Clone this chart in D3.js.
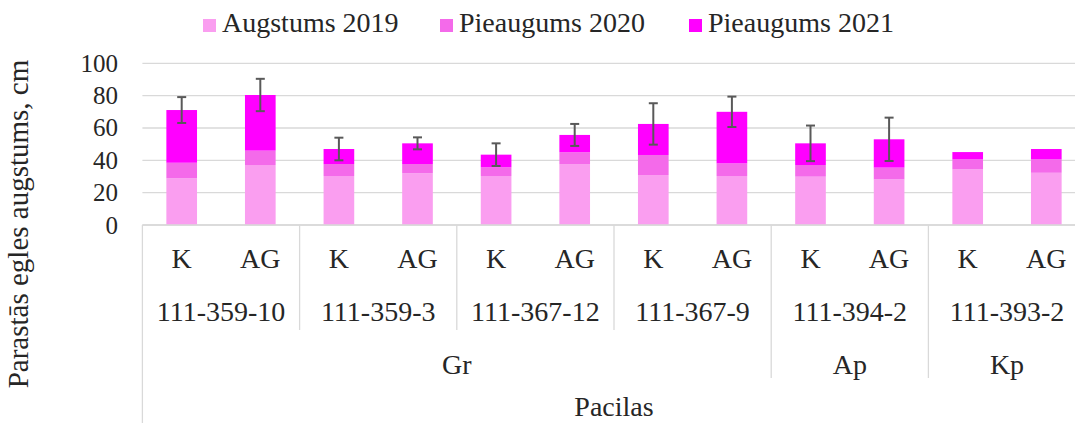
<!DOCTYPE html>
<html>
<head>
<meta charset="utf-8">
<script src="https://cdn.jsdelivr.net/npm/d3@7"></script>
<style>
  html, body { margin: 0; padding: 0; background: #fff; }
  svg { display: block; font-family: "Liberation Serif", "Times New Roman", serif; }
</style>
</head>
<body>
<svg id="chart" width="1075" height="423"></svg>
<script>
// ---- data ----
const treatments = ["K","AG","K","AG","K","AG","K","AG","K","AG","K","AG"];
const progenies = ["111-359-10","111-359-3","111-367-12","111-367-9","111-394-2","111-393-2"];
const regions = ["Gr","Ap","Kp"];
const regionSpan = [4, 1, 1]; // number of progenies in each region
const seriesNames = ["Augstums 2019","Pieaugums 2020","Pieaugums 2021"];
const growth2019 = [28.9, 37.1, 30.3, 32.0, 30.3, 37.5, 30.9, 30.3, 29.9, 28.2, 34.4, 32.3];
const incr2020   = [ 9.6,  8.9,  7.4,  5.7,  5.4,  7.5, 12.4,  7.8,  7.2,  7.3,  6.2,  8.3];
const incr2021   = [32.6, 34.4,  9.3, 12.8,  7.8, 10.7, 19.2, 31.9, 13.4, 17.5,  4.5,  6.4];
const errorSD    = [ 8.0, 10.0,  7.0,  3.7,  7.0,  6.8, 12.8,  9.4, 11.0, 13.4,  0,    0  ];
const yTicks = [0, 20, 40, 60, 80, 100];
const colors = ["#FA9EF0", "#F46AEA", "#FF00FF"];

// ---- layout ----
const svg = d3.select("#chart");
const x0 = 142.4, x1 = 1085.6, yBase = 225, yTop = 63.3;
const ids = treatments.map((t, i) => i);
const x = d3.scaleBand().domain(ids).range([x0, x1]).paddingInner(0.61).paddingOuter(0.305);
const y = d3.scaleLinear().domain([0, 100]).range([yBase, yTop]);
const step = x.step();
const textCol = "#262626";
const lineCol = "#d9d9d9";

// gridlines
svg.append("g").selectAll("line").data(yTicks).join("line")
  .attr("x1", x0).attr("x2", 1075)
  .attr("y1", d => y(d)).attr("y2", d => y(d))
  .attr("stroke", lineCol).attr("stroke-width", 1.3);

// y tick labels
svg.append("g").selectAll("text").data(yTicks).join("text")
  .attr("x", 118).attr("y", d => y(d))
  .attr("text-anchor", "end").attr("dominant-baseline", "central")
  .attr("font-size", 25).attr("fill", textCol)
  .text(d => d);

// y title
svg.append("text")
  .attr("transform", "translate(28,224) rotate(-90)")
  .attr("text-anchor", "middle")
  .attr("font-size", 29).attr("fill", textCol)
  .text("Parastās egles augstums, cm");

// stacked bars
const rows = ids.map(i => ({ i, v: [growth2019[i], incr2020[i], incr2021[i]] }));
const stack = d3.stack().keys([0, 1, 2]).value((d, k) => d.v[k]);
const layers = stack(rows);
svg.append("g").selectAll("g").data(layers).join("g")
  .attr("fill", (d, k) => colors[k])
  .selectAll("rect").data(d => d).join("rect")
  .attr("x", d => x(d.data.i))
  .attr("width", x.bandwidth())
  .attr("y", d => y(d[1]))
  .attr("height", d => y(d[0]) - y(d[1]));

// error bars
const totals = rows.map(r => r.v[0] + r.v[1] + r.v[2]);
const eb = svg.append("g").attr("stroke", "#595959").attr("stroke-width", 2);
ids.filter(i => errorSD[i] > 0).forEach(i => {
  const cx = x(i) + x.bandwidth() / 2;
  const hi = y(totals[i] + errorSD[i]), lo = y(totals[i] - errorSD[i]);
  eb.append("line").attr("x1", cx).attr("x2", cx).attr("y1", hi).attr("y2", lo);
  eb.append("line").attr("x1", cx - 4.5).attr("x2", cx + 4.5).attr("y1", hi).attr("y2", hi);
  eb.append("line").attr("x1", cx - 4.5).attr("x2", cx + 4.5).attr("y1", lo).attr("y2", lo);
});

// x axis line
svg.append("line").attr("x1", x0).attr("x2", 1075).attr("y1", yBase).attr("y2", yBase)
  .attr("stroke", lineCol).attr("stroke-width", 1.3);

// left border line
svg.append("line").attr("x1", x0).attr("x2", x0).attr("y1", yBase).attr("y2", 423)
  .attr("stroke", lineCol).attr("stroke-width", 1.3);

// progeny separators
const progBounds = d3.range(1, progenies.length).map(k => x0 + step * 2 * k);
let regionEnds = []; let acc = 0;
regionSpan.forEach(s => { acc += s; regionEnds.push(acc); });
svg.append("g").selectAll("line").data(progBounds).join("line")
  .attr("x1", d => d).attr("x2", d => d)
  .attr("y1", yBase)
  .attr("y2", (d, k) => regionEnds.includes(k + 1) ? 378 : 330)
  .attr("stroke", lineCol).attr("stroke-width", 1.3);

// treatment labels
svg.append("g").selectAll("text").data(ids).join("text")
  .attr("x", i => x(i) + x.bandwidth() / 2).attr("y", 268)
  .attr("text-anchor", "middle").attr("font-size", 28).attr("fill", textCol)
  .text(i => treatments[i]);

// progeny labels
svg.append("g").selectAll("text").data(progenies).join("text")
  .attr("x", (d, k) => x0 + step * (2 * k + 1)).attr("y", 321)
  .attr("text-anchor", "middle").attr("font-size", 28).attr("fill", textCol)
  .text(d => d);

// region labels
let start = 0;
regions.forEach((r, k) => {
  const a = x0 + step * 2 * start, b = x0 + step * 2 * (start + regionSpan[k]);
  svg.append("text").attr("x", (a + b) / 2).attr("y", 374)
    .attr("text-anchor", "middle").attr("font-size", 28).attr("fill", textCol).text(r);
  start += regionSpan[k];
});

// x title
svg.append("text").attr("x", (x0 + x1) / 2).attr("y", 416)
  .attr("text-anchor", "middle").attr("font-size", 28).attr("fill", textCol).text("Pacilas");

// legend
const legendX = [203, 440, 689];
const lg = svg.append("g");
seriesNames.forEach((n, k) => {
  lg.append("rect").attr("x", legendX[k]).attr("y", 19).attr("width", 13).attr("height", 13).attr("fill", colors[k]);
  lg.append("text").attr("x", legendX[k] + 19).attr("y", 32)
    .attr("font-size", 28).attr("fill", textCol).text(n);
});
</script>
</body>
</html>
